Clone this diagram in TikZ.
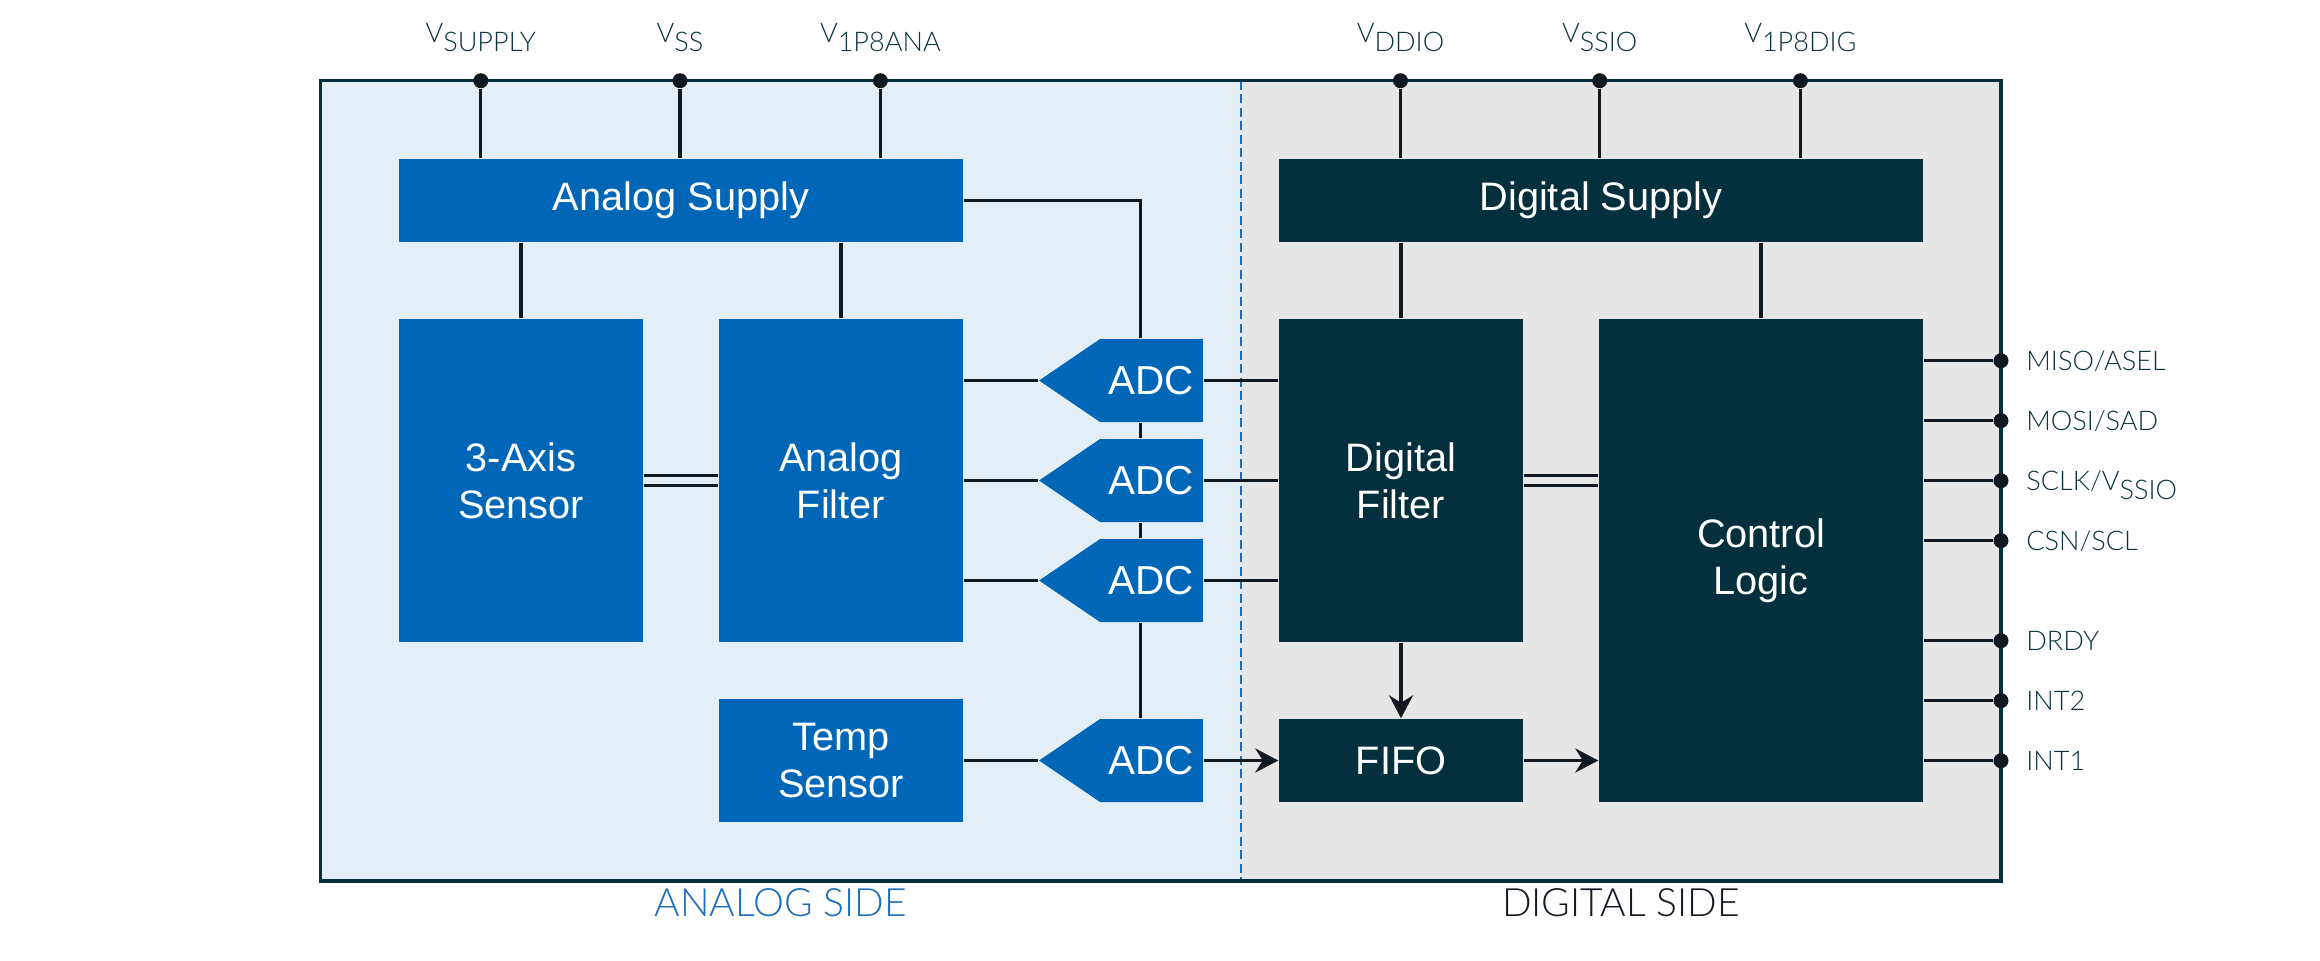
\documentclass[tikz,border=0pt]{standalone}
\usepackage{fontspec}
\setmainfont{Liberation Sans}
\newfontfamily\labelfont{Lato Light}
\usepackage{tikz}
\usetikzlibrary{positioning, shapes, shapes.symbols, arrows.meta}
\definecolor{anablue}{HTML}{0067B8}
\definecolor{digteal}{HTML}{03303C}
\definecolor{anaback}{HTML}{E4EEF7}
\definecolor{digback}{HTML}{E6E6E6}
\definecolor{wirecol}{HTML}{12181F}
\definecolor{pintext}{HTML}{0C3440}
\definecolor{sideblue}{HTML}{1A6DB8}
\tikzstyle{block} = [rectangle, text=white, align=center,
    font=\fontsize{11.3}{13.4}\selectfont, inner sep=0pt]
\tikzstyle{anablock} = [block, fill=anablue]
\tikzstyle{digblock} = [block, fill=digteal]
\tikzstyle{adc} = [signal, signal to=west, signal pointer angle=68.5,
    fill=anablue, text=white, font=\fontsize{11.5}{13}\selectfont,
    minimum height=0.83cm, inner ysep=0pt, inner xsep=0.088cm]
\tikzstyle{pinend} = [circle, fill=wirecol, inner sep=0pt, minimum size=0.15cm]
\tikzstyle{pinlabel} = [text=pintext, font=\labelfont\fontsize{7.7}{9}\selectfont,
    inner sep=0pt, text height=1.93mm, text depth=0pt]
\tikzstyle{sidelabel} = [font=\labelfont\fontsize{11.1}{13}\selectfont,
    inner sep=0pt, text height=2.8mm, text depth=0pt]
\tikzstyle{conn} = [draw=wirecol, line width=0.95pt]
\newcommand{\pinsub}[1]{\raisebox{-2.5pt}{#1}}

\begin{document}
\begin{tikzpicture}[auto, node distance=2cm, >={Stealth[length=2.3mm, width=2.4mm]}]

        \useasboundingbox (0,0) rectangle (23.2,-9.6);
        \fill[anaback] (3.207,-0.807) rectangle (12.41,-8.808);
        \fill[digback] (12.41,-0.807) rectangle (20.01,-8.808);
        \draw[sideblue, line width=0.6pt, dash pattern=on 0.09cm off 0.045cm] (12.41,-0.807) -- (12.41,-8.808);
        \draw[digteal, line width=1pt] (3.207,-0.807) rectangle (20.01,-8.808);

        \node[
            anablock,
            minimum width=5.64cm,
            minimum height=0.83cm
        ](asupply) at (6.81,-2.005){Analog Supply};

        \node[
            digblock,
            minimum width=6.44cm,
            minimum height=0.83cm
        ](dsupply) at (16.01,-2.005){Digital Supply};

        \node[
            anablock,
            minimum width=2.44cm,
            minimum height=3.23cm
        ](sensor) at (5.21,-4.805){3-Axis\\Sensor};

        \node[
            anablock,
            right of=sensor,
            node distance=3.2cm,
            minimum width=2.44cm,
            minimum height=3.23cm
        ](afilter){Analog\\Filter};

        \node[
            anablock,
            below of=afilter,
            node distance=2.8cm,
            minimum width=2.44cm,
            minimum height=1.23cm
        ](temp){Temp\\Sensor};

        \node[
            digblock,
            right of=afilter,
            node distance=5.6cm,
            minimum width=2.44cm,
            minimum height=3.23cm
        ](dfilter){Digital\\Filter};

        \node[
            digblock,
            below of=dfilter,
            node distance=2.8cm,
            minimum width=2.44cm,
            minimum height=0.83cm
        ](fifo){FIFO};

        \node[
            digblock,
            minimum width=3.24cm,
            minimum height=4.83cm
        ](control) at (17.61,-5.605){Control\\Logic};

        \node[adc, right of=afilter, node distance=3.105cm](adc2){ADC};
        \node[adc, above of=adc2, node distance=1cm](adc1){ADC};
        \node[adc, below of=adc2, node distance=1cm](adc3){ADC};
        \node[adc, right of=temp, node distance=3.105cm](adc4){ADC};
        \coordinate (bus) at ([xshift=-0.108cm]adc1.center);

        \node[pinend](vsupply) at (4.808,-0.807){};
        \node[pinend](vss) at (6.8,-0.807){};
        \node[pinend](vana) at (8.804,-0.807){};
        \node[pinend](vddio) at (14.005,-0.807){};
        \node[pinend](vssio) at (15.997,-0.807){};
        \node[pinend](vdig) at (18.004,-0.807){};

        \node[pinlabel, above=0.29cm of vsupply](lsupply){V\pinsub{SUPPLY}};
        \node[pinlabel, above=0.29cm of vss](lss){V\pinsub{SS}};
        \node[pinlabel, above=0.29cm of vana](lana){V\pinsub{1P8ANA}};
        \node[pinlabel, above=0.29cm of vddio](lddio){V\pinsub{DDIO}};
        \node[pinlabel, above=0.29cm of vssio](lssio){V\pinsub{SSIO}};
        \node[pinlabel, above=0.29cm of vdig](ldig){V\pinsub{1P8DIG}};

        \node[pinend](pmiso) at (20.01,-3.607){};
        \node[pinend](pmosi) at (20.01,-4.207){};
        \node[pinend](psclk) at (20.01,-4.807){};
        \node[pinend](pcsn) at (20.01,-5.407){};
        \node[pinend](pdrdy) at (20.01,-6.407){};
        \node[pinend](pint2) at (20.01,-7.007){};
        \node[pinend](pint1) at (20.01,-7.607){};

        \node[pinlabel, right=0.165cm of pmiso](lmiso){MISO/ASEL};
        \node[pinlabel, right=0.165cm of pmosi](lmosi){MOSI/SAD};
        \node[pinlabel, right=0.165cm of psclk](lsclk){SCLK/V\pinsub{SSIO}};
        \node[pinlabel, right=0.165cm of pcsn](lcsn){CSN/SCL};
        \node[pinlabel, right=0.165cm of pdrdy](ldrdy){DRDY};
        \node[pinlabel, right=0.165cm of pint2](lint2){INT2};
        \node[pinlabel, right=0.165cm of pint1](lint1){INT1};

        \node[sidelabel, text=sideblue](analogside) at (7.808,-9.02){ANALOG SIDE};
        \node[sidelabel, text=wirecol](digitalside) at (16.21,-9.02){DIGITAL SIDE};

        \draw[conn] (vsupply) -- (vsupply |- asupply.north);
        \draw[conn] (vss) -- (vss |- asupply.north);
        \draw[conn] (vana) -- (vana |- asupply.north);
        \draw[conn] (vddio) -- (vddio |- dsupply.north);
        \draw[conn] (vssio) -- (vssio |- dsupply.north);
        \draw[conn] (vdig) -- (vdig |- dsupply.north);

        \draw[conn] (sensor.north |- asupply.south) -- (sensor.north);
        \draw[conn] (afilter.north |- asupply.south) -- (afilter.north);
        \draw[conn] (dfilter.north |- dsupply.south) -- (dfilter.north);
        \draw[conn] (control.north |- dsupply.south) -- (control.north);

        \draw[conn] ([yshift=0.05cm]sensor.east) -- ([yshift=0.05cm]afilter.west);
        \draw[conn] ([yshift=-0.05cm]sensor.east) -- ([yshift=-0.05cm]afilter.west);
        \draw[conn] ([yshift=0.05cm]dfilter.east) -- ([yshift=0.05cm]dfilter.east -| control.west);
        \draw[conn] ([yshift=-0.05cm]dfilter.east) -- ([yshift=-0.05cm]dfilter.east -| control.west);

        \draw[conn] (asupply.east) -| (bus |- adc1.north);
        \draw[conn] (bus |- adc1.south) -- (bus |- adc2.north);
        \draw[conn] (bus |- adc2.south) -- (bus |- adc3.north);
        \draw[conn] (bus |- adc3.south) -- (bus |- adc4.north);

        \foreach \a in {adc1, adc2, adc3}{
            \draw[conn] (afilter.east |- \a.west) -- (\a.west);
            \draw[conn] (\a.east) -- (\a.east -| dfilter.west);
        }
        \draw[conn] (temp.east |- adc4.west) -- (adc4.west);
        \draw[conn, ->] (adc4.east) -- (adc4.east -| fifo.west);
        \draw[conn, ->] (dfilter.south) -- (fifo.north);
        \draw[conn, ->] (fifo.east) -- (fifo.east -| control.west);

        \foreach \p in {pmiso, pmosi, psclk, pcsn, pdrdy, pint2, pint1}{
            \draw[conn] (\p) -- (\p -| control.east);
        }
    \end{tikzpicture}
\end{document}
